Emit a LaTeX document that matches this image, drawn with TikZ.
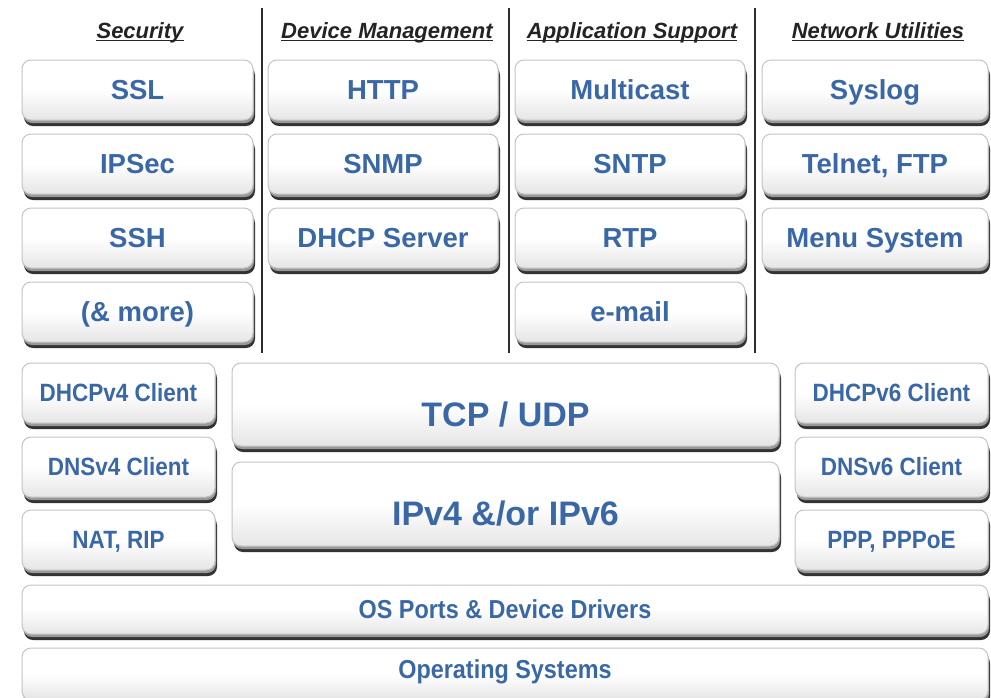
\documentclass[tikz,border=0pt]{standalone}
\usepackage{fontspec}
\setmainfont{Liberation Sans}
\newfontfamily\narrowbf[FakeStretch=0.9]{Liberation Sans Bold}
\usetikzlibrary{shadows}

\definecolor{labelblue}{RGB}{58,104,166}
\definecolor{headgray}{RGB}{35,35,35}
\definecolor{rimgray}{RGB}{196,196,196}
\definecolor{rulegray}{RGB}{45,45,45}

\tikzset{
  layer/.style={rectangle, rounded corners=9pt, draw=rimgray, line width=1pt,
    top color=white, bottom color=black!10, middle color=white,
    inner sep=0pt, outer sep=0pt, text=labelblue, align=center,
    drop shadow={shadow xshift=2pt, shadow yshift=-6pt, fill=black!80, opacity=1},
    drop shadow={shadow xshift=1pt, shadow yshift=-3pt, fill=black!40, opacity=1}},
  toplayer/.style={layer, minimum height=60pt,
    font=\bfseries\fontsize{27.5}{30}\selectfont, text height=19.7pt, text depth=0pt},
  sidelayer/.style={layer, minimum width=193pt, minimum height=60pt,
    font=\narrowbf\fontsize{25}{28}\selectfont, text height=17.9pt, text depth=0pt},
  biglayer/.style={layer, minimum width=547pt,
    font=\bfseries\fontsize{34}{38}\selectfont, text height=43pt, text depth=0pt},
  baselayer/.style={layer, minimum width=966pt,
    font=\narrowbf\fontsize{26}{29}\selectfont, text height=18.6pt, text depth=0pt},
  heading/.style={anchor=base, inner sep=0pt, text=headgray,
    font=\bfseries\itshape\fontsize{22}{26}\selectfont},
  headrule/.style={draw=headgray, line width=1.2pt},
  divider/.style={draw=rulegray, line width=2pt}
}

\begin{document}
\begin{tikzpicture}[x=1pt, y=-1pt]
  \useasboundingbox (0,0) rectangle (991,697);
  \clip (0,0) rectangle (991,697);

  % column headings, underlined
  \node[heading] (hsec) at (140,38) {Security};
  \node[heading] (hdev) at (387,38) {Device Management};
  \node[heading] (happ) at (632,38) {Application Support};
  \node[heading] (hnet) at (878,38) {Network Utilities};
  \foreach \h in {hsec,hdev,happ,hnet}
    \draw[headrule] ([yshift=-2.6pt]\h.base west) -- ([yshift=-2.6pt]\h.base east);

  % column dividers
  \draw[divider] (262,8) -- (262,353);
  \draw[divider] (508.5,8) -- (508.5,353);
  \draw[divider] (755,8) -- (755,353);

  % Security
  \node[toplayer, minimum width=231pt] (ssl)   at (137.5,90)  {SSL};
  \node[toplayer, minimum width=231pt] (ipsec) at (137.5,164) {IPSec};
  \node[toplayer, minimum width=231pt] (ssh)   at (137.5,238) {SSH};
  \node[toplayer, minimum width=231pt] (more)  at (137.5,312) {(\& more)};

  % Device Management
  \node[toplayer, minimum width=230pt] (http)  at (383,90)  {HTTP};
  \node[toplayer, minimum width=230pt] (snmp)  at (383,164) {SNMP};
  \node[toplayer, minimum width=230pt] (dhcps) at (383,238) {DHCP Server};

  % Application Support
  \node[toplayer, minimum width=230pt] (mcast) at (630,90)  {Multicast};
  \node[toplayer, minimum width=230pt] (sntp)  at (630,164) {SNTP};
  \node[toplayer, minimum width=230pt] (rtp)   at (630,238) {RTP};
  \node[toplayer, minimum width=230pt] (email) at (630,312) {e-mail};

  % Network Utilities
  \node[toplayer, minimum width=226pt] (syslog) at (875,90)  {Syslog};
  \node[toplayer, minimum width=226pt] (telnet) at (875,164) {Telnet, FTP};
  \node[toplayer, minimum width=226pt] (menu)   at (875,238) {Menu System};

  % IPv4 side services
  \node[sidelayer] (dhcp4) at (118.5,393) {DHCPv4 Client};
  \node[sidelayer] (dns4)  at (118.5,467) {DNSv4 Client};
  \node[sidelayer] (nat)   at (118.5,540) {NAT, RIP};

  % IPv6 side services
  \node[sidelayer] (dhcp6) at (891.5,393) {DHCPv6 Client};
  \node[sidelayer] (dns6)  at (891.5,467) {DNSv6 Client};
  \node[sidelayer] (ppp)   at (891.5,540) {PPP, PPPoE};

  % transport and network layers
  \node[biglayer, minimum height=83pt] (tcp) at (505.5,404.5) {TCP / UDP};
  \node[biglayer, minimum height=84pt] (ip)  at (505.5,504)   {IPv4 \&/or IPv6};

  % platform layers
  \node[baselayer, minimum height=49pt] (ports) at (505,609.5) {OS Ports \& Device Drivers};
  \node[baselayer, minimum height=52pt, text depth=9pt] (os) at (505,674) {Operating Systems};
\end{tikzpicture}
\end{document}
